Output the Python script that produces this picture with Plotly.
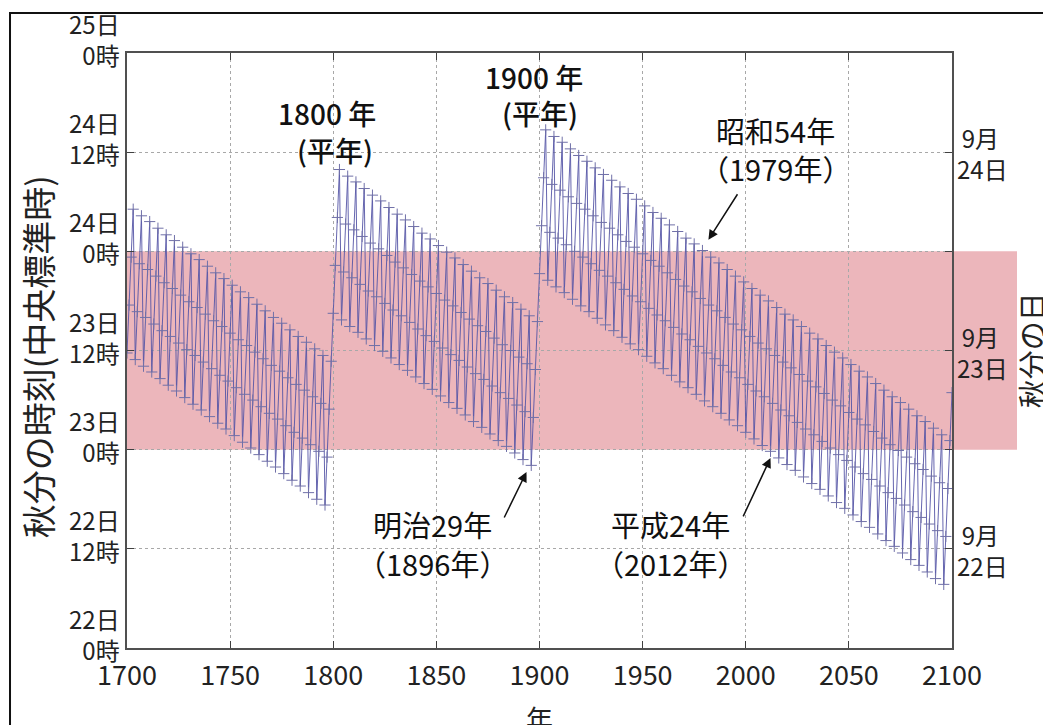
import plotly.graph_objects as go

# ---- data: autumn equinox time, hours after 22 Sep 0:00 (JST), per year ----
years = list(range(1700, 2101))

hours_1700s = [
    35.7, 41.5, 47.3, 53.1, 34.9, 40.7, 46.5, 52.3, 34.1, 40.0, 45.8, 51.6,
    33.4, 39.2, 45.0, 50.8, 32.6, 38.4, 44.2, 50.0, 31.8, 37.7, 43.5, 49.3,
    31.1, 36.9, 42.7, 48.5, 30.3, 36.1, 41.9, 47.7, 29.5, 35.4, 41.2, 47.0,
    28.8, 34.6, 40.4, 46.2, 28.0, 33.8, 39.6, 45.4, 27.2, 33.0, 38.9, 44.7,
    26.5, 32.3, 38.1, 43.9, 25.7, 31.5, 37.3, 43.1, 24.9, 30.7, 36.6, 42.4,
    24.2, 30.0, 35.8, 41.6, 23.4, 29.2, 35.0, 40.8, 22.6, 28.4, 34.2, 40.0,
    21.9, 27.7, 33.5, 39.3, 21.1, 26.9, 32.7, 38.5, 20.3, 26.1, 31.9, 37.7,
    19.6, 25.4, 31.2, 37.0, 18.8, 24.6, 30.4, 36.2, 18.0, 23.8, 29.6, 35.4,
    17.3, 23.1, 28.9, 34.7,
]
hours_1800s = [
    40.5, 46.3, 52.1, 57.9, 39.7, 45.5, 51.3, 57.1, 38.9, 44.8, 50.6, 56.4,
    38.2, 44.0, 49.8, 55.6, 37.4, 43.2, 49.0, 54.8, 36.6, 42.5, 48.3, 54.1,
    35.9, 41.7, 47.5, 53.3, 35.1, 40.9, 46.7, 52.5, 34.3, 40.2, 46.0, 51.8,
    33.6, 39.4, 45.2, 51.0, 32.8, 38.6, 44.4, 50.2, 32.0, 37.8, 43.7, 49.5,
    31.3, 37.1, 42.9, 48.7, 30.5, 36.3, 42.1, 47.9, 29.7, 35.5, 41.4, 47.2,
    29.0, 34.8, 40.6, 46.4, 28.2, 34.0, 39.8, 45.6, 27.4, 33.2, 39.0, 44.8,
    26.7, 32.5, 38.3, 44.1, 25.9, 31.7, 37.5, 43.3, 25.1, 30.9, 36.7, 42.5,
    24.4, 30.2, 36.0, 41.8, 23.6, 29.4, 35.2, 41.0, 22.8, 28.6, 34.4, 40.2,
    22.1, 27.9, 33.7, 39.5,
]
hours_1900s = [
    45.3, 51.1, 56.9, 62.7, 44.5, 50.3, 56.1, 61.9, 43.7, 49.6, 55.4, 61.2,
    43.0, 48.8, 54.6, 60.4, 42.2, 48.0, 53.8, 59.6, 41.4, 47.3, 53.1, 58.9,
    40.7, 46.5, 52.3, 58.1, 39.9, 45.7, 51.5, 57.3, 39.1, 45.0, 50.8, 56.6,
    38.4, 44.2, 50.0, 55.8, 37.6, 43.4, 49.2, 55.0, 36.8, 42.6, 48.5, 54.3,
    36.1, 41.9, 47.7, 53.5, 35.3, 41.1, 46.9, 52.7, 34.5, 40.3, 46.2, 52.0,
    33.8, 39.6, 45.4, 51.2, 33.0, 38.8, 44.6, 50.4, 32.2, 38.0, 43.8, 49.6,
    31.5, 37.3, 43.1, 48.9, 30.7, 36.5, 42.3, 48.1, 29.9, 35.7, 41.5, 47.3,
    29.2, 35.0, 40.8, 46.6, 28.4, 34.2, 40.0, 45.8, 27.6, 33.4, 39.2, 45.0,
    26.9, 32.7, 38.5, 44.3,
]
hours_2000s = [
    26.1, 31.9, 37.7, 43.5, 25.3, 31.1, 36.9, 42.7, 24.5, 30.4, 36.2, 42.0,
    23.8, 29.6, 35.4, 41.2, 23.0, 28.8, 34.6, 40.4, 22.2, 28.1, 33.9, 39.7,
    21.5, 27.3, 33.1, 38.9, 20.7, 26.5, 32.3, 38.1, 19.9, 25.8, 31.6, 37.4,
    19.2, 25.0, 30.8, 36.6, 18.4, 24.2, 30.0, 35.8, 17.6, 23.4, 29.3, 35.1,
    16.9, 22.7, 28.5, 34.3, 16.1, 21.9, 27.7, 33.5, 15.3, 21.1, 27.0, 32.8,
    14.6, 20.4, 26.2, 32.0, 13.8, 19.6, 25.4, 31.2, 13.0, 18.8, 24.6, 30.4,
    12.3, 18.1, 23.9, 29.7, 11.5, 17.3, 23.1, 28.9, 10.7, 16.5, 22.3, 28.1,
    10.0, 15.8, 21.6, 27.4, 9.2, 15.0, 20.8, 26.6, 8.4, 14.2, 20.0, 25.8,
    7.7, 13.5, 19.3, 25.1, 30.9,
]
hours = hours_1700s + hours_1800s + hours_1900s + hours_2000s

x_ticks = [1700, 1750, 1800, 1850, 1900, 1950, 2000, 2050, 2100]
y_ticks = [0, 12, 24, 36, 48, 60, 72]
y_day_labels = ["22日", "22日", "23日", "23日", "24日", "24日", "25日"]
y_hour_labels = ["0時", "12時", "0時", "12時", "0時", "12時", "0時"]
right_ticks = [12, 36, 60]
right_month_labels = ["9月", "9月", "9月"]
right_day_labels = ["22日", "23日", "24日"]
band_low, band_high = 24, 48  # 23日0時 – 24日0時 (秋分の日 = 9月23日)

FONT = "Noto Sans CJK JP, Noto Sans, sans-serif"
TXT = "#222222"

fig = go.Figure()
fig.add_trace(go.Scatter(
    x=years, y=hours, mode="lines+markers",
    line=dict(color="#5555a6", width=0.9),
    marker=dict(symbol="cross-thin", size=8, line=dict(color="#7070a8", width=1)),
    showlegend=False,
))

ax_common = dict(
    showline=True, linecolor="#505050", linewidth=1.5, mirror="ticks",
    ticks="inside", ticklen=7, tickcolor="#404040", tickwidth=1.2,
    showgrid=True, gridcolor="#a8a8a8", griddash="dot", gridwidth=1,
    zeroline=False,
)
# page body has an 8px margin: size the figure so the plot area lands at 127..952 x 53..648
fig.update_layout(
    width=1043, height=717,
    margin=dict(l=119, r=99, t=45, b=77),
    paper_bgcolor="white", plot_bgcolor="rgba(0,0,0,0)",
    font=dict(family=FONT, color=TXT),
    xaxis=dict(range=[1700, 2100], tickvals=x_ticks,
               ticktext=[str(v) for v in x_ticks], ticklabelstandoff=3,
               tickfont=dict(size=27, color=TXT), **ax_common),
    yaxis=dict(range=[0, 72], tickvals=y_ticks, showticklabels=False, **ax_common),
)

# pink band (秋分の日 = 23日), extends past right axis
fig.add_shape(type="rect", xref="paper", yref="paper",
              x0=0, x1=(1017 - 127) / 825, y0=band_low / 72, y1=band_high / 72,
              fillcolor="#ecb6bb", line=dict(width=0), layer="below")

# outer frame (top and left edges)
fig.add_shape(type="path", xref="paper", yref="paper",
              path="M -0.1418,-0.2 L -0.1418,1.0672 L 1.2,1.0672",
              line=dict(color="#111111", width=2), layer="above")

ann = []
for v, d, h in zip(y_ticks, y_day_labels, y_hour_labels):
    ann.append(dict(x=0, xref="paper", y=v, yref="y", text=f"{d}<br>{h}",
                    xanchor="right", align="right", yanchor="middle",
                    xshift=-5, yshift=14, showarrow=False,
                    font=dict(size=24, color=TXT)))
for v, m, d in zip(right_ticks, right_month_labels, right_day_labels):
    ann.append(dict(x=1, xref="paper", y=v, yref="y", text=f"\u2009{m}<br>{d}",
                    xanchor="left", align="left", yanchor="middle",
                    xshift=3, yshift=-1, showarrow=False,
                    font=dict(size=24, color=TXT)))

# axis titles
ann.append(dict(x=-0.108, xref="paper", y=0.49, yref="paper", text="秋分の時刻(中央標準時)",
                textangle=-90, showarrow=False, xanchor="center", yanchor="middle",
                font=dict(size=34, color=TXT)))
ann.append(dict(x=1.0955, xref="paper", y=0.5, yref="paper", text="秋分の日",
                textangle=-90, showarrow=False, xanchor="center", yanchor="middle",
                font=dict(size=29, color=TXT)))
ann.append(dict(x=0.5, xref="paper", y=-0.083, yref="paper", text="年",
                showarrow=False, xanchor="center", yanchor="top",
                font=dict(size=27, color=TXT)))

# event labels
def label(x, y, text, size=29, weight=None):
    f = dict(size=size, color="#111111")
    if weight:
        f["weight"] = weight
    ann.append(dict(x=x, y=y, xref="x", yref="y", text=text, showarrow=False,
                    xanchor="center", yanchor="middle", font=f))

label(1797.1, 64.7, "1800 年", 28, 500)
label(1801.0, 60.3, "(平年)", 28, 500)
label(1897.5, 69.1, "1900 年", 28, 500)
label(1900.4, 64.7, "(平年)", 28, 500)
label(2014.4, 62.7, "昭和54年")
label(2014.4, 58.1, "（1979年）")
label(1848.1, 15.0, "明治29年")
label(1848.1, 10.3, "（1896年）")
label(1963.4, 15.0, "平成24年")
label(1963.4, 10.3, "（2012年）")

def arrow(x, y, ax, ay):
    ann.append(dict(x=x, y=y, xref="x", yref="y", ax=ax, ay=ay, text="",
                    showarrow=True, arrowhead=2, arrowsize=1.3, arrowwidth=1.5,
                    arrowcolor="#111111", standoff=0, startstandoff=0))

arrow(1981.9, 49.4, 30, -47)
arrow(1893.7, 21.3, -23, 47)
arrow(2012.0, 23.0, -28, 60)

fig.update_layout(annotations=ann)
fig.write_html("out.html")
